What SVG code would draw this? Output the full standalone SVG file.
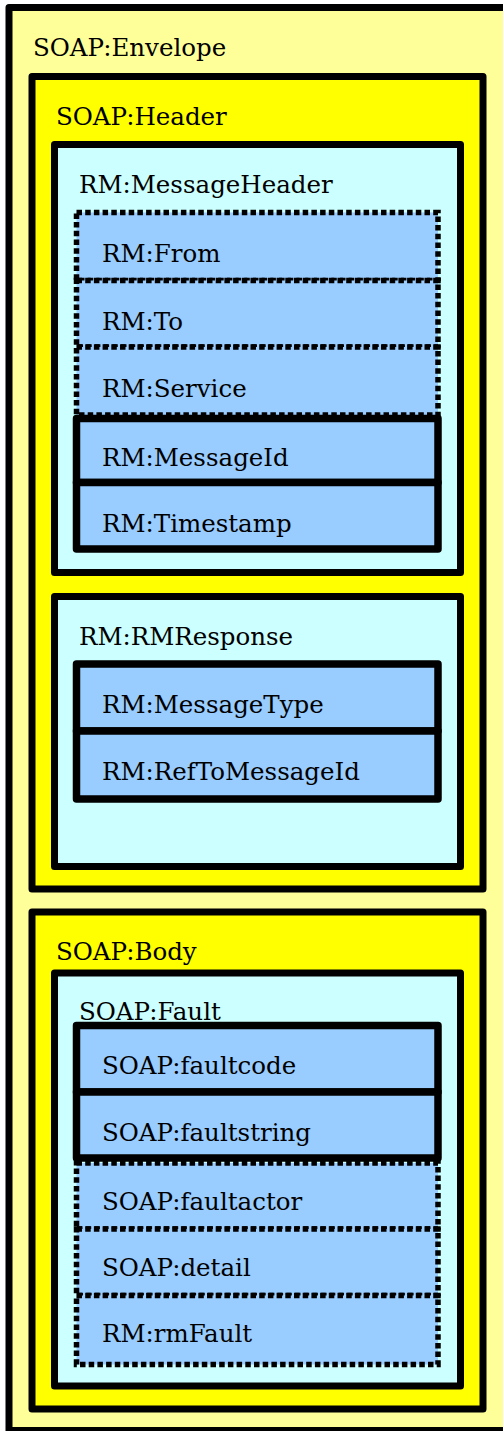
<svg xmlns="http://www.w3.org/2000/svg" width="503" height="1431" viewBox="0 0 503 1431">
<style>
text{font-family:"DejaVu Serif","Liberation Serif",serif;font-size:24.5px;fill:#000}
.env{fill:#FFFF99;stroke:none}
.envline{fill:none;stroke:#000;stroke-width:7;stroke-linejoin:round}
.sec{fill:#FFFF00;stroke:#000;stroke-width:7;stroke-linejoin:round}
.blk{fill:#CCFFFF;stroke:#000;stroke-width:7;stroke-linejoin:round}
.req{fill:#99CCFF;stroke:#000;stroke-width:7.5;stroke-linejoin:round}
.opt{fill:#99CCFF;stroke:#000;stroke-width:5.5;stroke-dasharray:5.5 3.2}
</style>
<g id="envelope">
<rect class="env" x="9" y="7.5" width="494" height="1423"/>
<path class="envline" d="M503 7.5H9V1430.5H503"/>
<text x="33" y="56">SOAP:Envelope</text>
</g>
<g id="header">
<rect class="sec" x="32" y="76.5" width="451" height="812.5"/>
<text x="56" y="125">SOAP:Header</text>
</g>
<g id="messageheader">
<rect class="blk" x="54.5" y="144.5" width="406" height="428"/>
<text x="79" y="193">RM:MessageHeader</text>
</g>
<g id="from">
<rect class="opt" x="76.5" y="212.5" width="361.5" height="68"/>
<text x="102" y="262">RM:From</text>
</g>
<g id="to">
<rect class="opt" x="76.5" y="280.5" width="361.5" height="66.5"/>
<text x="102" y="330">RM:To</text>
</g>
<g id="service">
<rect class="opt" x="76.5" y="347" width="361.5" height="68"/>
<text x="102" y="397">RM:Service</text>
</g>
<g id="messageid">
<rect class="req" x="76.5" y="418.5" width="361.5" height="64"/>
<text x="102" y="466">RM:MessageId</text>
</g>
<g id="timestamp">
<rect class="req" x="76.5" y="482.5" width="361.5" height="66.5"/>
<text x="102" y="532">RM:Timestamp</text>
</g>
<g id="rmresponse">
<rect class="blk" x="54.5" y="596.5" width="406" height="270"/>
<text x="79" y="645">RM:RMResponse</text>
</g>
<g id="messagetype">
<rect class="req" x="76.5" y="664" width="361.5" height="67"/>
<text x="102" y="713">RM:MessageType</text>
</g>
<g id="reftomessageid">
<rect class="req" x="76.5" y="731" width="361.5" height="68"/>
<text x="102" y="780">RM:RefToMessageId</text>
</g>
<g id="body">
<rect class="sec" x="32" y="912" width="451" height="497"/>
<text x="56" y="960">SOAP:Body</text>
</g>
<g id="fault">
<rect class="blk" x="54.5" y="973" width="406" height="413"/>
<text x="79" y="1020">SOAP:Fault</text>
</g>
<g id="faultactor">
<rect class="opt" x="76.5" y="1163" width="361.5" height="66"/>
<text x="102" y="1210">SOAP:faultactor</text>
</g>
<g id="detail">
<rect class="opt" x="76.5" y="1229" width="361.5" height="66.5"/>
<text x="102" y="1276">SOAP:detail</text>
</g>
<g id="rmfault">
<rect class="opt" x="76.5" y="1295.5" width="361.5" height="69"/>
<text x="102" y="1342">RM:rmFault</text>
</g>
<g id="faultcode">
<rect class="req" x="76.5" y="1025.5" width="361.5" height="66.5"/>
<text x="102" y="1074">SOAP:faultcode</text>
</g>
<g id="faultstring">
<rect class="req" x="76.5" y="1092" width="361.5" height="66"/>
<text x="102" y="1141">SOAP:faultstring</text>
</g>
<g id="connectors"/>
</svg>
